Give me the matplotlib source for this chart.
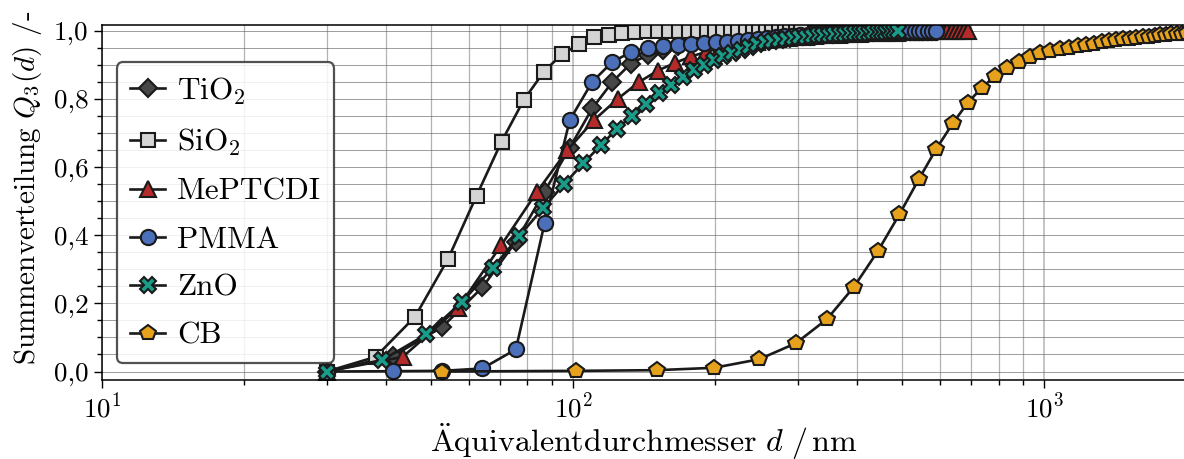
import matplotlib
matplotlib.use("Agg")
import matplotlib.pyplot as plt
from matplotlib.ticker import FuncFormatter, MultipleLocator

plt.rcParams.update({
    "font.family": "serif",
    "font.serif": ["cmr10"],
    "mathtext.fontset": "cm",
    "axes.formatter.use_mathtext": True,
    "axes.unicode_minus": False,
})

# --- data: equivalent diameter d [nm] and cumulative distribution Q3 [-] ---
d_tio2 = [30.0, 41.4, 52.8, 64.2, 75.6, 87.0, 98.4, 109.8, 121.2, 132.6,
          144.0, 155.4, 166.8, 178.2, 189.6, 201.0, 212.4, 223.8, 235.2, 246.6,
          258.0, 269.4, 280.8, 292.2, 303.6, 315.0, 326.4, 337.8, 349.2, 360.6,
          372.0, 383.4, 394.8, 406.2, 417.6, 429.0, 440.4, 451.8, 463.2, 474.6,
          486.0, 497.4, 508.8, 520.2, 531.6, 543.0, 554.4, 565.8, 577.2, 588.6]
q_tio2 = [0.0, 0.045, 0.131, 0.247, 0.381, 0.528, 0.657, 0.772, 0.850, 0.904,
          0.929, 0.945, 0.956, 0.965, 0.972, 0.978, 0.983, 0.987, 0.990, 0.992,
          0.994, 0.995, 0.996, 0.997, 0.998, 0.998, 0.999, 0.999, 0.999, 0.999,
          1.0, 1.0, 1.0, 1.0, 1.0, 1.0, 1.0, 1.0, 1.0, 1.0,
          1.0, 1.0, 1.0, 1.0, 1.0, 1.0, 1.0, 1.0, 1.0, 1.0]

d_sio2 = [30.0, 38.1, 46.2, 54.3, 62.4, 70.5, 78.6, 86.7, 94.8, 102.9,
          111.0, 119.1, 127.2, 135.3, 143.4, 151.5, 159.6, 167.7, 175.8, 183.9,
          192.0, 200.1, 208.2, 216.3, 224.4, 232.5, 240.6, 248.7, 256.8, 264.9,
          273.0, 281.1, 289.2, 297.3, 305.4]
q_sio2 = [0.0, 0.043, 0.161, 0.331, 0.516, 0.675, 0.797, 0.880, 0.932, 0.960,
          0.981, 0.989, 0.995, 0.997, 0.998, 0.999, 0.999, 1.0, 1.0, 1.0,
          1.0, 1.0, 1.0, 1.0, 1.0, 1.0, 1.0, 1.0, 1.0, 1.0,
          1.0, 1.0, 1.0, 1.0, 1.0]

d_meptcdi = [30.0, 43.5, 56.9, 70.4, 83.9, 97.3, 110.8, 124.3, 137.8, 151.2,
             164.7, 178.2, 191.6, 205.1, 218.6, 232.0, 245.5, 259.0, 272.4, 285.9,
             299.4, 312.9, 326.3, 339.8, 353.3, 366.7, 380.2, 393.7, 407.1, 420.6,
             434.1, 447.6, 461.0, 474.5, 488.0, 501.4, 514.9, 528.4, 541.8, 555.3,
             568.8, 582.2, 595.7, 609.2, 622.7, 636.1, 649.6, 663.1, 676.5, 690.0]
q_meptcdi = [0.0, 0.043, 0.185, 0.371, 0.528, 0.650, 0.738, 0.800, 0.849, 0.883,
             0.906, 0.925, 0.938, 0.949, 0.957, 0.963, 0.968, 0.972, 0.976, 0.979,
             0.981, 0.983, 0.985, 0.987, 0.988, 0.989, 0.990, 0.991, 0.992, 0.993,
             0.993, 0.994, 0.994, 0.995, 0.995, 0.996, 0.996, 0.996, 0.997, 0.997,
             0.997, 0.998, 0.998, 0.998, 0.999, 0.999, 0.999, 0.999, 1.0, 1.0]

d_pmma = [30.0, 41.4, 52.8, 64.2, 75.6, 87.0, 98.4, 109.8, 121.2, 132.6,
          144.0, 155.4, 166.8, 178.2, 189.6, 201.0, 212.4, 223.8, 235.2, 246.6,
          258.0, 269.4, 280.8, 292.2, 303.6, 315.0, 326.4, 337.8, 349.2, 360.6,
          372.0, 383.4, 394.8, 406.2, 417.6, 429.0, 440.4, 451.8, 463.2, 474.6,
          486.0, 497.4, 508.8, 520.2, 531.6, 543.0, 554.4, 565.8, 577.2, 588.6]
q_pmma = [0.0, 0.001, 0.002, 0.009, 0.065, 0.435, 0.738, 0.850, 0.909, 0.937,
          0.951, 0.955, 0.958, 0.960, 0.963, 0.966, 0.968, 0.970, 0.973, 0.976,
          0.979, 0.982, 0.984, 0.986, 0.988, 0.989, 0.990, 0.991, 0.992, 0.993,
          0.994, 0.994, 0.995, 0.995, 0.996, 0.996, 0.997, 0.997, 0.997, 0.998,
          0.998, 0.998, 0.998, 0.999, 0.999, 0.999, 0.999, 1.0, 1.0, 1.0]

d_zno = [30.0, 39.4, 48.8, 58.2, 67.6, 76.9, 86.3, 95.7, 105.1, 114.5,
         123.9, 133.3, 142.7, 152.0, 161.4, 170.8, 180.2, 189.6, 199.0, 208.4,
         217.8, 227.1, 236.5, 245.9, 255.3, 264.7, 274.1, 283.5, 292.9, 302.3,
         311.6, 321.0, 330.4, 339.8, 349.2, 358.6, 368.0, 377.4, 386.8, 396.1,
         405.5, 414.9, 424.3, 433.7, 443.1, 452.5, 461.9, 471.2, 480.6, 490.0]
q_zno = [0.0, 0.034, 0.109, 0.205, 0.305, 0.398, 0.479, 0.550, 0.611, 0.664,
         0.712, 0.750, 0.786, 0.817, 0.842, 0.865, 0.885, 0.901, 0.914, 0.926,
         0.935, 0.945, 0.953, 0.961, 0.967, 0.971, 0.974, 0.977, 0.979, 0.981,
         0.983, 0.985, 0.987, 0.988, 0.989, 0.990, 0.991, 0.992, 0.993, 0.994,
         0.994, 0.995, 0.995, 0.996, 0.996, 0.997, 0.997, 0.998, 0.998, 0.999]

d_cb = [52.6, 101.5, 150.4, 199.3, 248.2, 297.1, 346.0, 394.9, 443.8, 492.7,
        541.6, 590.5, 639.4, 688.3, 737.2, 786.1, 835.0, 883.9, 932.8, 981.7,
        1030.6, 1079.5, 1128.4, 1177.3, 1226.2, 1275.1, 1324.0, 1372.9, 1421.8, 1470.7,
        1519.6, 1568.5, 1617.4, 1666.3, 1715.2, 1764.1, 1813.0, 1861.9, 1910.8, 1959.7,
        2008.6]
q_cb = [0.0, 0.002, 0.004, 0.011, 0.036, 0.083, 0.154, 0.249, 0.354, 0.461,
        0.564, 0.654, 0.728, 0.789, 0.833, 0.867, 0.891, 0.909, 0.922, 0.934,
        0.941, 0.946, 0.950, 0.954, 0.958, 0.962, 0.966, 0.969, 0.972, 0.975,
        0.977, 0.979, 0.981, 0.983, 0.985, 0.987, 0.988, 0.990, 0.991, 0.992,
        0.993]

# label, data, marker, size, fill colour
SERIES = [
    ("TiO$_2$",  d_tio2,    q_tio2,    "D", 9.3,  "#474747"),
    ("SiO$_2$",  d_sio2,    q_sio2,    "s", 10.5, "#d4d4d4"),
    ("MePTCDI",  d_meptcdi, q_meptcdi, "^", 11.5, "#b52a2a"),
    ("PMMA",     d_pmma,    q_pmma,    "o", 11.0, "#4b6fb8"),
    ("ZnO",      d_zno,     q_zno,     "X", 11.5, "#1a9c8a"),
    ("CB",       d_cb,      q_cb,      "p", 11.5, "#e6a21c"),
]

fig = plt.figure(figsize=(11.84, 4.59), dpi=100)
ax = fig.add_axes([0.0861, 0.172, 0.9156, 0.7735])

for label, d, q, mk, ms, col in SERIES:
    ax.plot(d, q, "-", color="#1a1a1a", lw=1.9, marker=mk, ms=ms,
            mfc=col, mec="#1a1a1a", mew=1.5, label=label)

ax.set_xscale("log")
ax.set_xlim(10, 2000)
ax.set_ylim(-0.025, 1.017)
ax.yaxis.set_major_locator(MultipleLocator(0.2))
ax.yaxis.set_minor_locator(MultipleLocator(0.05))
ax.yaxis.set_major_formatter(FuncFormatter(lambda v, p: f"{v:.1f}".replace(".", ",")))

ax.grid(True, which="major", axis="x", color="0.55", lw=1.4, alpha=0.5)
ax.grid(True, which="minor", axis="x", color="0.45", lw=0.9, alpha=0.55)
ax.grid(True, which="both", axis="y", color="0.4", lw=0.6, alpha=0.75)
ax.set_axisbelow(True)

ax.tick_params(which="both", direction="out", labelsize=19.5, width=1.0)
ax.tick_params(which="major", length=6)
ax.tick_params(which="minor", length=3.5)
for s in ax.spines.values():
    s.set_linewidth(1.1)

ax.set_xlabel(r"$\mathrm{\ddot{A}quivalentdurchmesser}\ d\ /\,\mathrm{nm}$", fontsize=23, labelpad=-1.5)
ax.set_ylabel(r"Summenverteilung $Q_3(d)$ /-", fontsize=21)
ax.yaxis.set_label_coords(-0.053, 0.54)

leg = ax.legend(loc="upper left", bbox_to_anchor=(0.0141, 0.895), borderaxespad=0,
                fontsize=22.5, handlelength=1.1, handletextpad=0.4, labelspacing=0.64,
                borderpad=0.42, fancybox=True, framealpha=0.85, edgecolor="#333333")
leg.get_frame().set_linewidth(1.6)

fig.savefig("out.png", dpi=100)
